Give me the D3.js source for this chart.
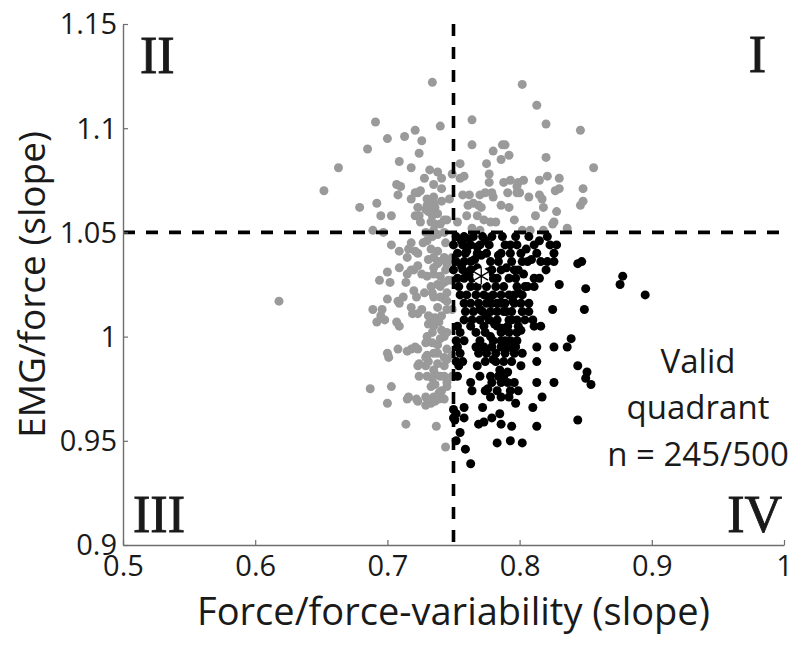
<!DOCTYPE html>
<html>
<head>
<meta charset="utf-8">
<script src="https://cdn.jsdelivr.net/npm/d3@7"></script>
<style>
  html, body { margin: 0; padding: 0; background: #fff; }
  svg text { font-family: "Open Sans", "Noto Sans", sans-serif; fill: #1a1a1a; }
  svg text.quad { font-family: "Liberation Serif", "DejaVu Serif", serif; }
</style>
</head>
<body>
<svg id="chart" width="800" height="647"></svg>
<script>
// axis setup
const xDomain = [0.5, 1];
const yDomain = [0.9, 1.15];
const xTicks = [0.5, 0.6, 0.7, 0.8, 0.9, 1];
const yTicks = [0.9, 0.95, 1, 1.05, 1.1, 1.15];
const xThreshold = 0.75;
const yThreshold = 1.05;
const xLabel = "Force/force-variability (slope)";
const yLabel = "EMG/force (slope)";
const quadrantLabels = ["I", "II", "III", "IV"];
const noteLines = ["Valid", "quadrant", "n = 245/500"];
const meanPoint = [0.771, 1.029];

// simulations outside quadrant IV (grey)
const outsidePoints = [
  [0.691,1.103],[0.700,1.095],[0.713,1.096],[0.721,1.099],[0.726,1.094],[0.685,1.090],[0.724,1.088],[0.663,1.081],
  [0.709,1.084],[0.718,1.081],[0.728,1.076],[0.732,1.080],[0.652,1.070],[0.707,1.073],[0.708,1.068],[0.723,1.069],
  [0.725,1.070],[0.679,1.062],[0.692,1.064],[0.723,1.062],[0.730,1.063],[0.695,1.058],[0.703,1.058],[0.721,1.058],
  [0.724,1.058],[0.689,1.051],[0.697,1.050],[0.731,1.060],
  [0.734,1.122],[0.802,1.121],[0.813,1.111],[0.764,1.104],[0.740,1.101],[0.820,1.102],[0.846,1.099],[0.764,1.092],
  [0.787,1.092],[0.789,1.092],[0.780,1.089],[0.792,1.087],[0.786,1.085],[0.820,1.086],[0.755,1.083],[0.775,1.083],
  [0.856,1.081],[0.738,1.079],[0.749,1.078],[0.758,1.077],[0.755,1.076],[0.777,1.078],[0.741,1.076],[0.793,1.075],
  [0.788,1.074],[0.799,1.074],[0.803,1.075],[0.815,1.075],[0.821,1.077],[0.830,1.076],[0.777,1.074],[0.798,1.072],
  [0.741,1.071],[0.848,1.071],[0.827,1.070],[0.830,1.071],[0.757,1.068],[0.762,1.068],[0.770,1.068],[0.774,1.069],
  [0.779,1.069],[0.780,1.067],[0.791,1.069],[0.798,1.069],[0.800,1.069],[0.807,1.067],[0.815,1.068],[0.817,1.066],
  [0.747,1.066],[0.735,1.064],[0.761,1.063],[0.765,1.064],[0.769,1.063],[0.771,1.062],[0.786,1.063],[0.792,1.062],
  [0.818,1.062],[0.846,1.063],[0.848,1.065],[0.828,1.060],[0.760,1.058],[0.768,1.058],[0.773,1.056],[0.778,1.055],
  [0.782,1.055],[0.796,1.056],[0.812,1.058],[0.825,1.054],[0.836,1.052],[0.764,1.052],[0.770,1.051],[0.753,1.055],
  [0.734,1.062],[0.738,1.059],[0.743,1.056],[0.736,1.054],[0.802,1.051],[0.808,1.051],[0.818,1.051],[0.826,1.055],
  [0.735,1.073],[0.721,1.069],[0.735,1.067],[0.730,1.066],[0.736,1.062],[0.741,1.065],[0.734,1.058],[0.729,1.061],
  [0.725,1.055],[0.733,1.055],[0.740,1.054],[0.745,1.056],[0.735,1.051],[0.743,1.050],[0.729,1.050],[0.710,1.072],
  [0.718,1.066],
  [0.703,1.044],[0.709,1.041],[0.716,1.042],[0.721,1.041],[0.723,1.040],[0.727,1.045],[0.730,1.046],[0.734,1.048],
  [0.738,1.049],[0.744,1.045],[0.733,1.042],[0.738,1.041],[0.735,1.038],[0.731,1.037],[0.739,1.036],[0.743,1.038],
  [0.745,1.035],[0.748,1.037],[0.700,1.031],[0.709,1.033],[0.715,1.030],[0.720,1.032],[0.723,1.034],[0.726,1.030],
  [0.730,1.029],[0.694,1.027],[0.702,1.026],[0.735,1.030],[0.740,1.029],[0.744,1.032],[0.746,1.027],[0.743,1.026],
  [0.738,1.025],[0.733,1.024],[0.734,1.021],[0.735,1.019],[0.740,1.019],[0.745,1.021],[0.743,1.018],[0.700,1.018],
  [0.709,1.016],[0.712,1.019],[0.722,1.019],[0.718,1.014],[0.723,1.011],[0.726,1.013],[0.745,1.017],[0.745,1.013],
  [0.689,1.013],[0.696,1.013],[0.695,1.010],[0.692,1.007],[0.698,1.008],[0.707,1.007],[0.709,1.005],[0.733,1.009],
  [0.736,1.009],[0.731,1.006],[0.735,1.005],[0.739,1.007],[0.734,1.002],[0.741,1.003],[0.743,1.000],[0.730,1.000],
  [0.729,0.997],[0.734,0.997],[0.738,0.996],[0.700,0.992],[0.701,0.990],[0.708,0.994],[0.715,0.993],[0.718,0.994],
  [0.721,0.995],[0.745,0.994],[0.730,0.991],[0.738,0.992],[0.723,0.986],[0.729,0.986],[0.731,0.988],[0.738,0.987],
  [0.743,0.986],[0.745,0.989],[0.724,0.981],[0.730,0.981],[0.734,0.980],[0.736,0.982],[0.743,0.981],[0.687,0.975],
  [0.703,0.976],[0.733,0.976],[0.736,0.977],[0.741,0.974],[0.745,0.976],[0.716,0.971],[0.722,0.970],[0.735,0.971],
  [0.740,0.972],[0.700,0.968],[0.723,0.969],[0.729,0.967],[0.733,0.968],[0.736,0.969],[0.739,0.970],[0.743,0.970],
  [0.714,0.958],[0.737,0.957],[0.744,0.947],
  [0.718,1.045],[0.715,1.038],[0.738,1.035],[0.735,1.033],[0.718,1.032],[0.714,1.026],[0.720,1.022],[0.728,1.021],
  [0.740,1.024],[0.738,1.014],[0.719,1.011],[0.731,1.010],[0.741,1.010],
  [0.723,0.994],[0.740,0.999],[0.745,1.002],[0.735,0.992],[0.743,0.990],[0.729,0.990],[0.724,0.987],[0.735,0.984],
  [0.740,0.981],[0.745,0.978],[0.739,0.973],[0.729,0.971],[0.715,0.970],
  [0.618,1.017],[0.708,1.017],
  [0.749,1.038],[0.749,1.027],[0.749,1.013],[0.749,0.991],[0.749,0.981]
];

// simulations in the valid quadrant IV (black)
const validPoints = [
  [0.752,1.048],[0.758,1.048],[0.765,1.048],[0.772,1.048],[0.779,1.048],[0.787,1.048],[0.797,1.048],[0.807,1.048],[0.821,1.048],
  [0.750,1.044],[0.757,1.044],[0.763,1.044],[0.770,1.044],[0.777,1.044],[0.789,1.044],[0.798,1.044],[0.811,1.044],[0.823,1.044],[0.828,1.044],
  [0.753,1.040],[0.759,1.040],[0.768,1.040],[0.775,1.040],[0.786,1.040],[0.793,1.040],[0.801,1.040],[0.813,1.040],[0.826,1.040],
  [0.752,1.036],[0.758,1.036],[0.763,1.036],[0.778,1.036],[0.784,1.036],[0.794,1.036],[0.802,1.036],[0.806,1.036],[0.816,1.036],[0.821,1.036],[0.826,1.036],
  [0.750,1.032],[0.757,1.032],[0.763,1.032],[0.779,1.032],[0.786,1.032],[0.796,1.032],[0.799,1.032],[0.820,1.032],
  [0.753,1.028],[0.758,1.028],[0.764,1.028],[0.780,1.028],[0.792,1.028],[0.797,1.028],[0.811,1.028],[0.815,1.028],
  [0.830,1.025],
  [0.754,1.024],[0.763,1.024],[0.768,1.024],[0.775,1.024],[0.782,1.024],[0.788,1.024],[0.798,1.024],[0.804,1.024],[0.811,1.024],
  [0.755,1.020],[0.760,1.020],[0.767,1.020],[0.773,1.020],[0.780,1.020],[0.786,1.020],[0.792,1.020],[0.796,1.020],[0.802,1.020],
  [0.758,1.016],[0.763,1.016],[0.769,1.016],[0.775,1.016],[0.779,1.016],[0.786,1.016],[0.789,1.016],[0.796,1.016],[0.801,1.016],[0.807,1.016],
  [0.825,1.013],
  [0.759,1.012],[0.765,1.012],[0.772,1.012],[0.778,1.012],[0.783,1.012],[0.788,1.012],[0.794,1.012],[0.802,1.012],[0.807,1.012],
  [0.758,1.008],[0.764,1.008],[0.770,1.008],[0.777,1.008],[0.783,1.008],[0.792,1.008],[0.798,1.008],[0.804,1.008],[0.810,1.008],
  [0.753,1.005],[0.763,1.005],[0.773,1.005],[0.783,1.005],[0.791,1.005],[0.799,1.005],[0.811,1.005],[0.816,1.005],
  [0.755,1.002],[0.767,1.002],[0.774,1.002],[0.786,1.002],[0.792,1.002],[0.798,1.002],
  [0.752,0.998],[0.758,0.998],[0.770,0.998],[0.780,0.998],[0.786,0.998],[0.793,0.998],[0.798,0.998],
  [0.839,0.999],
  [0.753,0.995],[0.767,0.995],[0.773,0.995],[0.779,0.995],[0.786,0.995],[0.791,0.995],[0.797,0.995],[0.813,0.995],[0.826,0.995],[0.836,0.995],
  [0.755,0.992],[0.769,0.992],[0.775,0.992],[0.782,0.992],[0.789,0.992],[0.796,0.992],
  [0.752,0.988],[0.757,0.988],[0.774,0.988],[0.782,0.988],[0.788,0.988],[0.794,0.988],[0.813,0.988],
  [0.754,0.986],[0.768,0.986],[0.801,0.986],[0.844,0.986],
  [0.753,0.981],[0.770,0.981],[0.778,0.981],[0.784,0.981],[0.788,0.981],
  [0.763,0.978],[0.779,0.978],[0.786,0.978],[0.791,0.978],[0.813,0.978],[0.826,0.978],
  [0.764,0.974],[0.774,0.974],[0.783,0.974],[0.793,0.974],[0.799,0.974],
  [0.778,0.971],[0.786,0.971],[0.792,0.971],[0.817,0.971],
  [0.851,0.983],[0.850,0.980],[0.854,0.977],
  [0.750,0.965],[0.758,0.966],[0.752,0.963],[0.758,0.961],[0.750,0.961],[0.772,0.966],[0.769,0.958],[0.773,0.959],
  [0.779,0.961],[0.785,0.963],[0.786,0.958],[0.794,0.957],[0.797,0.968],[0.810,0.966],[0.813,0.957],[0.844,0.960],
  [0.755,0.954],[0.752,0.950],[0.759,0.946],[0.783,0.949],[0.793,0.950],[0.802,0.949],[0.763,0.939],[0.751,0.960],
  [0.844,1.035],[0.847,1.036],[0.850,1.023],[0.878,1.029],[0.876,1.025],[0.895,1.020],[0.849,1.013],
  [0.756,1.046],[0.761,1.047],[0.768,1.043],[0.774,1.046],[0.760,1.041],[0.766,1.037],[0.771,1.039],[0.756,1.034],
  [0.761,1.030],[0.768,1.033],[0.776,1.031],[0.783,1.028],[0.790,1.033],[0.784,1.039],[0.793,1.044],[0.805,1.042],
  [0.809,1.037],[0.815,1.046],[0.803,1.030],[0.806,1.024],[0.777,1.019],[0.783,1.016],[0.790,1.012],[0.795,1.017],
  [0.799,1.021],[0.770,1.013],[0.775,1.010],[0.781,1.006],[0.787,1.004],[0.794,1.008],[0.801,1.003],[0.778,1.000],
  [0.789,0.998],[0.795,0.994],[0.802,0.992],[0.780,0.989],[0.785,0.984],[0.791,0.983],[0.796,0.978],[0.776,0.975]
];

const svg = d3.select("#chart");

const x = d3.scaleLinear().domain(xDomain).range([123, 784]);
const y = d3.scaleLinear().domain(yDomain).range([545, 24]);

// points
svg.append("g")
  .selectAll("circle")
  .data(outsidePoints)
  .join("circle")
  .attr("cx", d => x(d[0]))
  .attr("cy", d => y(d[1]))
  .attr("r", 4.5)
  .attr("fill", "#9a9a9a");

svg.append("g")
  .selectAll("circle")
  .data(validPoints)
  .join("circle")
  .attr("cx", d => x(d[0]))
  .attr("cy", d => y(d[1]))
  .attr("r", 4.5)
  .attr("fill", "#000000");

// mean marker
svg.append("circle")
  .attr("cx", x(meanPoint[0]))
  .attr("cy", y(meanPoint[1]))
  .attr("r", 8)
  .attr("fill", "#fff");
svg.append("path")
  .attr("d", d3.symbol(d3.symbolAsterisk, 180)())
  .attr("transform", `translate(${x(meanPoint[0])},${y(meanPoint[1])})`)
  .attr("fill", "none")
  .attr("stroke", "#000")
  .attr("stroke-width", 1.3);

// threshold lines
svg.append("line")
  .attr("x1", x(xThreshold)).attr("x2", x(xThreshold))
  .attr("y1", y(yDomain[1])).attr("y2", y(yDomain[0]))
  .attr("stroke", "#000").attr("stroke-width", 3.6)
  .attr("stroke-dasharray", "12,11");
svg.append("line")
  .attr("x1", x(xDomain[0])).attr("x2", x(xDomain[1]))
  .attr("y1", y(yThreshold)).attr("y2", y(yThreshold))
  .attr("stroke", "#000").attr("stroke-width", 3.6)
  .attr("stroke-dasharray", "12,11");

// axes
const xAxis = svg.append("g")
  .attr("transform", `translate(0,${y(yDomain[0])})`)
  .call(d3.axisBottom(x).tickValues(xTicks).tickFormat(d => String(d)).tickSizeInner(-5).tickSizeOuter(0).tickPadding(10));
const yAxis = svg.append("g")
  .attr("transform", `translate(${x(xDomain[0])},0)`)
  .call(d3.axisLeft(y).tickValues(yTicks).tickFormat(d => String(d)).tickSizeInner(-5).tickSizeOuter(0).tickPadding(6));

[xAxis, yAxis].forEach(g => {
  g.select(".domain").attr("stroke", "#6e6e6e").attr("stroke-width", 1.4);
  g.selectAll(".tick line").attr("stroke", "#6e6e6e").attr("stroke-width", 1.2);
  g.selectAll(".tick text")
    .attr("font-family", null)
    .style("font-size", "29px")
    .attr("fill", "#1a1a1a");
});
xAxis.selectAll(".tick text").attr("dy", "0.71em");
yAxis.selectAll(".tick text").attr("dy", "0.34em");

// axis titles
svg.append("text")
  .attr("x", (x(xDomain[0]) + x(xDomain[1])) / 2)
  .attr("y", 625)
  .attr("text-anchor", "middle")
  .style("font-size", "38px")
  .text(xLabel);

svg.append("text")
  .attr("transform", `translate(45,${(y(yDomain[0]) + y(yDomain[1])) / 2}) rotate(-90)`)
  .attr("text-anchor", "middle")
  .style("font-size", "37px")
  .text(yLabel);

// quadrant numerals
const quadPos = [
  { x: 766, y: 72, anchor: "end" },
  { x: 140, y: 73, anchor: "start" },
  { x: 133, y: 532, anchor: "start" },
  { x: 782, y: 532, anchor: "end" }
];
svg.append("g")
  .selectAll("text")
  .data(quadrantLabels)
  .join("text")
  .attr("class", "quad")
  .attr("x", (d, i) => quadPos[i].x)
  .attr("y", (d, i) => quadPos[i].y)
  .attr("text-anchor", (d, i) => quadPos[i].anchor)
  .attr("stroke", "#1a1a1a")
  .attr("stroke-width", 0.9)
  .style("font-size", "52px")
  .text(d => d);

// note
svg.append("g")
  .selectAll("text")
  .data(noteLines)
  .join("text")
  .attr("x", 698)
  .attr("y", (d, i) => 373 + i * 46.3)
  .attr("text-anchor", "middle")
  .style("font-size", "33px")
  .text(d => d);
</script>
</body>
</html>
